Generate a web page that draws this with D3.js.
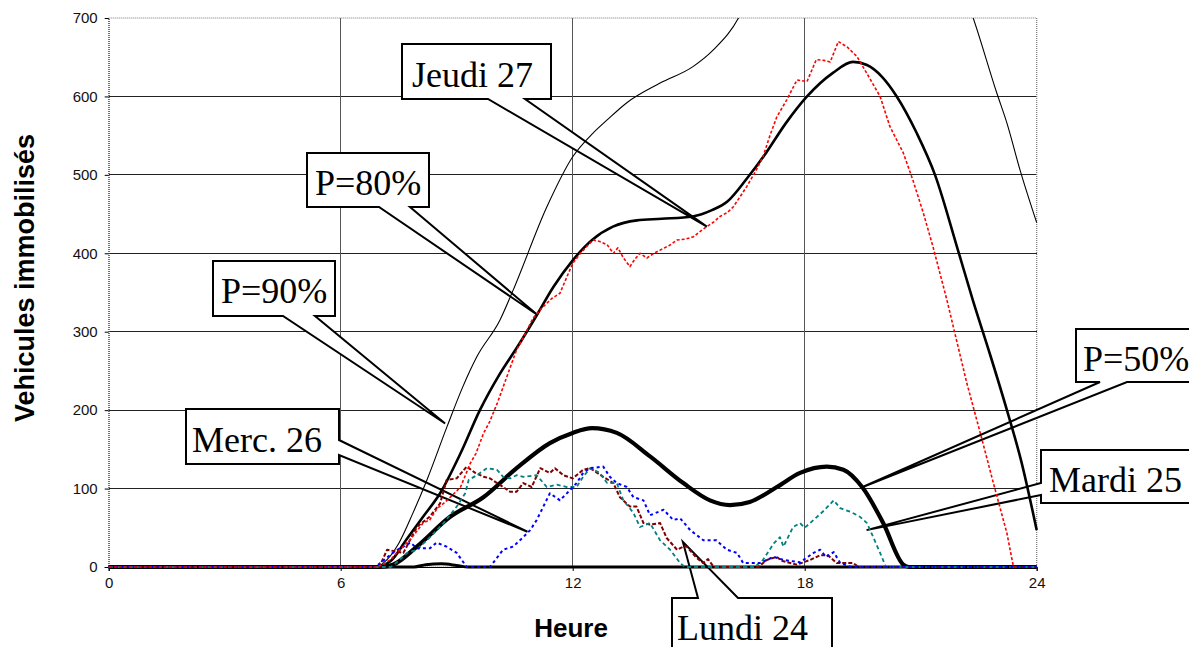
<!DOCTYPE html>
<html><head><meta charset="utf-8">
<script src="https://cdn.jsdelivr.net/npm/d3@7"></script>
<style>body{margin:0;background:#fff}svg{display:block}</style>
</head><body>
<svg id="c" width="1189" height="647"></svg>
<script>
// ---- data ----
const xTicks = [0, 6, 12, 18, 24];
const yTicks = [0, 100, 200, 300, 400, 500, 600, 700];
const p90 = [[0,0],[6.9,0],[7.1,5],[7.5,30],[7.87,69],[8.23,111],[8.75,179],[9.16,230],[9.52,268],[10.12,315],[10.46,353],[11.33,459],[12.0,523],[12.52,553],[12.89,570],[13.4,592],[14.26,617],[15.11,638],[15.63,659],[16.33,704],[17,790],[19,900],[21,850],[22.33,704],[22.97,604],[23.23,566],[23.57,506],[24,439]];
const p80 = [[0,0],[6.9,0],[7.3,8],[7.7,35],[8.13,64],[8.57,94],[9.1,145],[9.6,200],[10.1,245],[10.6,283],[11.07,321],[11.5,357],[12.0,391],[12.5,417],[13.04,434],[13.66,442],[14.3,444],[15.1,447],[15.6,455],[16.0,466],[16.5,495],[17.0,528],[17.5,565],[18.06,600],[18.73,630],[19.25,644],[19.61,640],[20.0,625],[20.38,600],[20.9,553],[21.37,500],[21.94,408],[22.35,340],[22.8,270],[23.23,200],[23.6,135],[24,47]];
const p50 = [[0,0],[7.0,0],[7.35,3],[7.97,26],[8.83,64],[9.69,89],[10.55,126],[11.41,158],[12.0,171],[12.5,177],[13.14,171],[14.0,141],[14.86,107],[15.55,85],[16.07,79],[16.58,83],[17.28,102],[17.88,120],[18.57,128],[19.0,124],[19.5,101],[20.03,56],[20.55,3],[20.7,0],[24,0]];
const baseLine = [[0,0],[7.9,0],[8.2,3],[8.6,4],[9.0,2],[9.3,0],[24,0]];
const lundi24 = [[0,0],[7.0,0],[7.2,22],[7.4,20],[7.62,18],[7.8,35],[7.97,51],[8.3,64],[8.57,81],[8.74,111],[9.0,113],[9.26,128],[9.48,120],[9.7,115],[9.86,113],[10.2,102],[10.38,96],[10.55,96],[10.72,107],[10.94,102],[11.16,126],[11.41,120],[11.54,126],[11.76,117],[12.0,113],[12.27,124],[12.45,126],[12.79,115],[13.05,107],[13.22,89],[13.48,77],[13.65,77],[13.83,56],[14.0,54],[14.26,56],[14.43,37],[14.7,22],[14.86,26],[14.95,26],[15.2,12],[15.37,5],[15.5,10],[15.65,0],[16.8,0],[17.02,9],[17.28,13],[17.4,8],[17.8,3],[18.14,9],[18.4,15],[18.6,15],[18.83,5],[19.25,5],[19.4,0],[24,0]];
const mardi25 = [[0,0],[7.3,0],[7.5,8],[7.72,18],[7.97,22],[8.31,38],[8.66,56],[9.0,77],[9.22,94],[9.31,111],[9.52,117],[9.78,126],[10.04,124],[10.2,115],[10.38,113],[10.55,117],[10.72,115],[11.07,117],[11.33,102],[11.59,105],[11.85,102],[12.1,102],[12.27,115],[12.45,126],[12.7,120],[12.89,107],[13.14,107],[13.31,85],[13.57,69],[13.74,51],[14.0,56],[14.26,34],[14.52,22],[14.78,5],[14.9,0],[16.7,0],[16.92,9],[17.2,30],[17.36,38],[17.45,26],[17.7,51],[17.88,56],[18.0,50],[18.23,60],[18.5,72],[18.75,85],[18.92,75],[19.2,70],[19.43,64],[19.61,56],[19.8,35],[19.95,18],[20.1,0],[24,0]];
const merc26 = [[0,0],[6.9,0],[7.02,5],[7.4,20],[7.8,31],[7.97,24],[8.31,24],[8.48,31],[8.74,26],[9.0,18],[9.26,0],[9.86,0],[10.2,22],[10.46,26],[10.72,38],[10.9,47],[11.07,60],[11.24,77],[11.41,94],[11.67,85],[11.93,98],[12.1,107],[12.27,120],[12.45,126],[12.79,128],[12.96,115],[13.14,107],[13.4,102],[13.57,89],[13.83,85],[14.0,66],[14.35,73],[14.6,60],[14.78,62],[15.04,47],[15.38,34],[15.72,34],[15.99,22],[16.25,18],[16.41,5],[16.84,5],[17.2,13],[17.45,9],[17.88,6],[18.23,18],[18.4,22],[18.55,13],[18.75,19],[18.92,5],[19.2,0],[24,0]];
const jeudi27 = [[0,0],[6.9,0],[7.1,3],[7.3,10],[7.53,22],[7.8,35],[8.13,56],[8.3,60],[8.5,75],[8.66,81],[8.9,92],[9.1,102],[9.35,132],[9.5,145],[9.69,170],[9.85,185],[10.05,209],[10.3,243],[10.55,277],[10.75,295],[10.97,317],[11.2,330],[11.45,342],[11.67,349],[11.85,370],[12.0,387],[12.2,400],[12.35,408],[12.53,417],[12.7,415],[12.89,411],[13.05,400],[13.17,407],[13.3,395],[13.48,383],[13.6,392],[13.74,400],[13.92,394],[14.1,400],[14.26,404],[14.5,410],[14.7,417],[14.9,418],[15.12,421],[15.3,428],[15.47,434],[15.65,440],[15.81,447],[16.0,452],[16.15,459],[16.3,470],[16.5,485],[16.7,502],[16.84,515],[16.92,523],[17.1,550],[17.28,574],[17.54,596],[17.8,621],[18.06,619],[18.3,647],[18.5,646],[18.66,644],[18.87,670],[19.1,663],[19.35,651],[19.6,630],[19.95,600],[20.2,562],[20.55,528],[20.8,493],[21.07,451],[21.32,408],[21.68,340],[22.19,235],[22.54,171],[22.88,107],[23.23,43],[23.4,0],[23.5,0]];

// callouts: label, box [x0,y0,x1,y1] (px), wedge side and base, tip in data coords
const callouts = [
  {label:"Jeudi 27", box:[402,44,551,99], tx:412, ty:87, side:"bottom", base:[488,525], tip:[15.47,434]},
  {label:"P=80%", box:[307,153,429,207], tx:315, ty:195, side:"bottom", base:[379,410], tip:[11.1,321]},
  {label:"P=90%", box:[213,261,335,316], tx:221, ty:303, side:"bottom", base:[283,315], tip:[8.7,183]},
  {label:"Merc. 26", box:[186,409,339,464], tx:192, ty:452, side:"right", base:[440,455], tip:[10.83,45]},
  {label:"P=50%", box:[1076,329,1240,382], tx:1083, ty:371, side:"bottom", base:[1100,1127], tip:[19.5,102]},
  {label:"Mardi 25", box:[1041,450,1240,503], tx:1049, ty:492, side:"left", base:[483,495], tip:[19.6,47]},
  {label:"Lundi 24", box:[672,598,832,670], tx:677, ty:640, side:"top", base:[698,738], tip:[14.85,32]}
];

// ---- chart ----
const svg = d3.select("#c");
const L = 108.7, R = 1036.7, T = 18, B = 567;
const x = d3.scaleLinear().domain([0,24]).range([L,R]);
const y = d3.scaleLinear().domain([0,700]).range([B,T]);

svg.append("defs").append("clipPath").attr("id","clip")
  .append("rect").attr("x",L-2).attr("y",T).attr("width",R-L+4).attr("height",B-T+3);

// gridlines
svg.append("g").selectAll("line").data(yTicks.filter(d=>d>0 && d<700)).join("line")
  .attr("x1",L).attr("x2",R).attr("y1",d=>y(d)).attr("y2",d=>y(d))
  .attr("stroke","#222").attr("stroke-width",1).attr("shape-rendering","crispEdges");
svg.append("g").selectAll("line").data(xTicks.filter(d=>d>0 && d<24)).join("line")
  .attr("x1",d=>x(d)).attr("x2",d=>x(d)).attr("y1",T).attr("y2",B)
  .attr("stroke","#555").attr("stroke-width",1).attr("shape-rendering","crispEdges");
// frame
svg.append("rect").attr("x",L).attr("y",T).attr("width",R-L).attr("height",B-T)
  .attr("fill","none").attr("stroke","#777").attr("stroke-width",1.2).attr("stroke-dasharray","1,1");

// axes
const yAxis = d3.axisLeft(y).tickValues(yTicks).tickSize(4).tickFormat(d3.format("d"));
const gy = svg.append("g").attr("transform",`translate(${L},0)`).call(yAxis);
gy.select(".domain").attr("stroke","#444").attr("stroke-dasharray","1,1");
gy.selectAll("text").attr("font-family","Liberation Sans, Arial, sans-serif").attr("font-size",15).attr("fill","#111").attr("x",-11);
const xAxis = d3.axisBottom(x).tickValues(xTicks).tickSize(4).tickFormat(d3.format("d"));
const gx = svg.append("g").attr("transform",`translate(0,${B})`).call(xAxis);
gx.select(".domain").attr("stroke","#000");
gx.selectAll("text").attr("font-family","Liberation Sans, Arial, sans-serif").attr("font-size",15).attr("fill","#111").attr("y",10);

svg.append("text").attr("transform","translate(34,278) rotate(-90)")
  .attr("text-anchor","middle").attr("font-family","Liberation Sans, Arial, sans-serif")
  .attr("font-weight","bold").attr("font-size",27).text("Vehicules immobilisés");
svg.append("text").attr("x",571).attr("y",637)
  .attr("text-anchor","middle").attr("font-family","Liberation Sans, Arial, sans-serif")
  .attr("font-weight","bold").attr("font-size",26).text("Heure");

// callouts
const cg = svg.append("g");
callouts.forEach(c => {
  const [x0,y0,x1,y1] = c.box;
  const tx = x(c.tip[0]), ty = y(c.tip[1]);
  let p;
  if (c.side==="bottom") p = `M${x0},${y0}H${x1}V${y1}H${c.base[1]}L${tx},${ty}L${c.base[0]},${y1}H${x0}Z`;
  else if (c.side==="top") p = `M${x0},${y0}H${c.base[0]}L${tx},${ty}L${c.base[1]},${y0}H${x1}V${y1}H${x0}Z`;
  else if (c.side==="right") p = `M${x0},${y0}H${x1}V${c.base[0]}L${tx},${ty}L${x1},${c.base[1]}V${y1}H${x0}Z`;
  else p = `M${x0},${y0}H${x1}V${y1}H${x0}V${c.base[1]}L${tx},${ty}L${x0},${c.base[0]}Z`;
  cg.append("path").attr("d",p).attr("fill","#fff").attr("stroke","#000").attr("stroke-width",2).attr("stroke-linejoin","miter");
  cg.append("text").attr("x",c.tx).attr("y",c.ty).attr("font-family","Liberation Serif, Times New Roman, serif")
    .attr("font-size",36).attr("fill","#000").text(c.label);
});

// series
const smooth = d3.line().x(d=>x(d[0])).y(d=>y(d[1])).curve(d3.curveMonotoneX);
const straight = d3.line().x(d=>x(d[0])).y(d=>y(d[1]));
const sg = svg.append("g").attr("clip-path","url(#clip)");
const series = [
  {d:p90, gen:smooth, color:"#000", w:1.1, dash:null},
  {d:p80, gen:smooth, color:"#000", w:2.6, dash:null},
  {d:p50, gen:smooth, color:"#000", w:4.2, dash:null},
  {d:baseLine, gen:smooth, color:"#000", w:3, dash:null},
  {d:lundi24, gen:straight, color:"#800000", w:2, dash:"4,2"},
  {d:mardi25, gen:straight, color:"#008080", w:1.8, dash:"4,3"},
  {d:merc26, gen:straight, color:"#0000ff", w:2, dash:"3,3"},
  {d:jeudi27, gen:straight, color:"#ff0000", w:1.6, dash:"3,2"}
];
series.forEach(s => {
  sg.append("path").attr("d",s.gen(s.d)).attr("fill","none").attr("stroke",s.color)
    .attr("stroke-width",s.w).attr("stroke-dasharray",s.dash).attr("stroke-linejoin","round");
});
</script>
</body></html>
